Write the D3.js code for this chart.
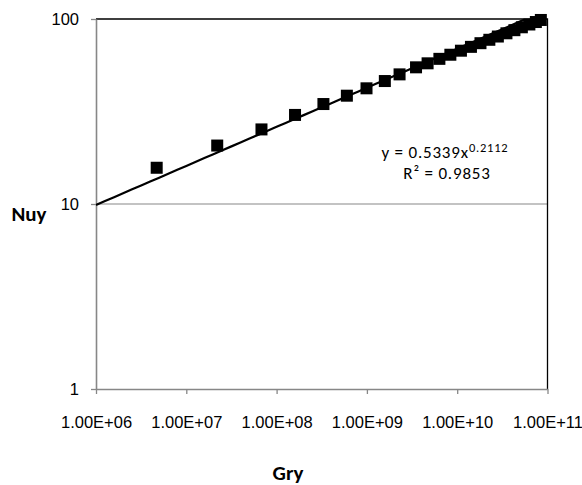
<!DOCTYPE html>
<html>
<head>
<meta charset="utf-8">
<script src="https://cdn.jsdelivr.net/npm/d3@7"></script>
<style>
  body { margin: 0; background: #fff; }
  svg { display: block; font-family: Carlito, Lato, "Open Sans", sans-serif; }
</style>
</head>
<body>
<svg id="chart" width="582" height="485"></svg>
<script>
// Gry (x) and Nuy (y) readings, log-log chart
const gryValues = [4.7e6, 2.2e7, 6.8e7, 1.6e8, 3.3e8, 6.0e8, 9.9e8, 1.58e9, 2.3e9, 3.5e9,
  4.7e9, 6.35e9, 8.4e9, 1.10e10, 1.42e10, 1.81e10, 2.27e10, 2.82e10, 3.51e10, 4.30e10,
  5.20e10, 6.30e10, 7.43e10, 8.44e10];
const nuyValues = [15.7, 20.7, 25.3, 30.3, 34.7, 38.5, 42.2, 46.2, 50.2, 54.8,
  57.6, 60.9, 64.1, 67.4, 70.7, 74.0, 77.2, 80.4, 83.7, 87.0,
  90.2, 93.4, 96.3, 98.8];
const xTicks = [1e6, 1e7, 1e8, 1e9, 1e10, 1e11];
const yTicks = [1, 10, 100];
const trendA = 0.5339;
const trendB = 0.2112;
const trendLabel = 'y = 0.5339x';
const trendExp = '0.2112';
const r2Label = 'R² = 0.9853';

const svg = d3.select('#chart');
const plotLeft = 96, plotRight = 547.5, plotTop = 19, plotBottom = 389;

/* Scales */
const x = d3.scaleLog().domain([1e6, 1e11]).range([plotLeft, plotRight]);
const y = d3.scaleLog().domain([1, 100]).range([plotBottom, plotTop]);

/* Grid line at 10 */
svg.append('g')
  .selectAll('line')
  .data(yTicks.filter(d => d > 1 && d < 100))
  .enter()
  .append('line')
  .attr('x1', plotLeft).attr('x2', plotRight)
  .attr('y1', d => y(d)).attr('y2', d => y(d))
  .attr('stroke', '#878787').attr('stroke-width', 1);

/* top + right frame */
svg.append('path')
  .attr('d', `M${plotLeft},${y(100)}H${plotRight}V${plotBottom}`)
  .attr('fill', 'none').attr('stroke', '#000').attr('stroke-width', 1.3);

/* X axis */
const fmtSci = d => {
  const e = Math.round(Math.log10(d));
  return (d / Math.pow(10, e)).toFixed(2) + 'E+' + String(e).padStart(2, '0');
};
const xAxis = d3.axisBottom(x)
  .tickValues(xTicks)
  .tickFormat(fmtSci)
  .tickSize(5)
  .tickSizeOuter(0)
  .tickPadding(22);
const gx = svg.append('g')
  .attr('transform', `translate(0,${plotBottom})`)
  .call(xAxis);
gx.select('.domain').attr('stroke', '#878787').attr('stroke-width', 1.6);
gx.selectAll('.tick line').attr('stroke', '#878787').attr('stroke-width', 1.3);
gx.selectAll('text').attr('font-size', 16.5).attr('fill', '#000');

/* Y axis */
const yAxis = d3.axisLeft(y)
  .tickValues(yTicks)
  .tickFormat(d3.format('d'))
  .tickSize(5)
  .tickSizeOuter(0)
  .tickPadding(12);
const gy = svg.append('g')
  .attr('transform', `translate(${plotLeft},0)`)
  .call(yAxis);
gy.select('.domain').attr('stroke', '#878787').attr('stroke-width', 1.6);
gy.selectAll('.tick line').attr('stroke', '#878787').attr('stroke-width', 1.3);
gy.selectAll('text').attr('font-size', 16.5).attr('fill', '#000');

/* Axis titles */
svg.append('text')
  .attr('x', 288).attr('y', 480)
  .attr('text-anchor', 'middle')
  .attr('font-size', 21).attr('font-weight', 'bold')
  .text('Gry');
svg.append('text')
  .attr('x', 29).attr('y', 221)
  .attr('text-anchor', 'middle')
  .attr('font-size', 21).attr('font-weight', 'bold')
  .text('Nuy');

/* Trend line (power fit), clipped to plot area */
svg.append('clipPath').attr('id', 'plotclip')
  .append('rect')
  .attr('x', plotLeft).attr('y', plotTop)
  .attr('width', plotRight - plotLeft).attr('height', plotBottom - plotTop);

const trendX = d3.range(0, 51).map(i => Math.pow(10, 6 + i / 10));
const line = d3.line()
  .x(d => x(d))
  .y(d => y(trendA * Math.pow(d, trendB)));
svg.append('path')
  .datum(trendX)
  .attr('clip-path', 'url(#plotclip)')
  .attr('d', line)
  .attr('fill', 'none')
  .attr('stroke', '#000')
  .attr('stroke-width', 2.2);

/* Markers */
const pts = gryValues.map((g, i) => ({ g: g, n: nuyValues[i] }));
const size = 12;
svg.append('g')
  .selectAll('rect')
  .data(pts)
  .enter()
  .append('rect')
  .attr('x', d => x(d.g) - size / 2)
  .attr('y', d => y(d.n) - size / 2)
  .attr('width', size)
  .attr('height', size)
  .attr('fill', '#000');

/* Trendline label: equation and R² */
const eq = svg.append('text')
  .attr('x', 445).attr('y', 158)
  .attr('text-anchor', 'middle')
  .attr('font-size', 17)
  .attr('letter-spacing', 0.8);
eq.append('tspan').text(trendLabel);
eq.append('tspan').attr('dy', -6).attr('font-size', 12.5).text(trendExp);
svg.append('text')
  .attr('x', 447).attr('y', 179)
  .attr('text-anchor', 'middle')
  .attr('font-size', 17)
  .attr('letter-spacing', 0.8)
  .text(r2Label);
</script>
</body>
</html>
